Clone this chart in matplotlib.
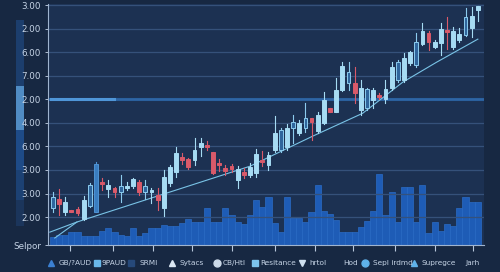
import numpy as np
import matplotlib
matplotlib.use("Agg")
import matplotlib.pyplot as plt
from matplotlib.lines import Line2D
from matplotlib.patches import Rectangle

# candle data (index order), values on the chart's own y scale
opens = [0.38, 0.76, 0.21, 0.30, 0.34, -0.08, 0.47, 0.21, 1.49, 1.19,
         1.23, 1.06, 1.23, 1.32, 1.49, 1.06, 1.06, 0.93, 0.38, 1.44,
         1.91, 2.55, 2.46, 2.42, 2.97, 3.06, 2.76, 2.29, 2.08, 2.16,
         1.57, 1.91, 1.78, 1.87, 2.42, 2.21, 2.84, 2.84, 2.97, 3.78,
         3.57, 3.78, 4.20, 3.65, 3.99, 4.63, 4.46, 5.39, 5.69, 5.69,
         4.54, 4.63, 4.97, 5.18, 5.01, 5.48, 5.82, 5.82, 6.54, 6.45,
         7.34, 7.81, 7.22, 7.39, 7.94, 7.22, 7.51, 7.73, 8.02, 8.79]
closes = [0.85, 0.55, 0.64, 0.21, 0.17, 0.72, 1.36, 2.25, 1.40, 1.36,
          1.06, 1.32, 1.32, 1.61, 1.06, 1.32, 1.15, 0.72, 1.70, 2.12,
          2.72, 2.42, 2.12, 2.84, 3.14, 2.97, 1.87, 2.21, 1.95, 2.04,
          2.04, 1.78, 2.12, 2.67, 2.33, 2.63, 3.57, 3.69, 3.78, 4.03,
          3.99, 4.20, 4.03, 4.33, 4.97, 4.46, 5.39, 6.41, 6.16, 5.26,
          5.48, 5.43, 5.39, 5.09, 5.43, 6.37, 6.58, 6.75, 7.00, 7.43,
          7.90, 7.43, 7.43, 7.98, 7.85, 7.90, 7.77, 8.49, 8.53, 8.96]
highs = [1.06, 1.19, 0.85, 0.30, 0.42, 0.89, 1.44, 2.33, 1.66, 1.57,
         1.27, 1.78, 1.49, 1.66, 1.57, 1.57, 1.23, 1.23, 2.00, 2.21,
         2.97, 2.72, 2.50, 3.35, 3.35, 3.23, 2.76, 2.46, 2.21, 2.25,
         2.16, 2.08, 2.29, 2.89, 2.80, 2.76, 4.29, 3.78, 3.95, 4.33,
         4.12, 4.84, 4.20, 4.46, 5.31, 4.63, 5.90, 6.58, 6.58, 6.37,
         5.82, 5.48, 5.48, 5.26, 5.82, 6.58, 6.66, 6.96, 7.05, 7.81,
         8.24, 7.90, 7.51, 8.24, 8.49, 8.07, 8.02, 8.87, 8.91, 8.96]
lows = [0.21, 0.08, 0.08, 0.21, 0.08, -0.13, 0.42, 0.21, 1.15, 0.85,
        0.85, 0.64, 1.15, 1.23, 0.93, 0.76, 0.59, 0.30, 0.04, 1.32,
        1.70, 2.25, 2.04, 2.21, 2.59, 2.84, 1.83, 1.95, 1.78, 1.91,
        1.23, 1.66, 1.70, 1.70, 2.16, 2.00, 2.76, 2.76, 2.84, 3.14,
        3.48, 3.61, 3.27, 3.57, 3.95, 4.46, 4.46, 5.35, 5.39, 4.84,
        4.33, 4.54, 4.63, 5.01, 4.84, 5.39, 5.73, 5.73, 6.45, 6.37,
        7.30, 7.09, 7.17, 6.88, 7.13, 7.13, 7.43, 7.68, 7.64, 8.32]
hollow_idx = [0, 6, 11, 15, 37, 39, 41, 48, 51, 56, 59, 67]
blue_idx = [7]

volume = [3.3, 4.1, 4.1, 5.4, 5.4, 3.7, 3.7, 3.7, 5.8, 7.1,
          5.4, 4.1, 3.7, 7.1, 3.7, 5.0, 7.1, 7.1, 8.3, 7.9,
          7.9, 9.1, 10.8, 9.5, 9.5, 15.4, 9.5, 9.5, 15.4, 12.4,
          9.5, 8.7, 12.4, 18.7, 15.8, 19.9, 9.1, 5.4, 19.9, 11.2,
          11.2, 9.5, 13.7, 24.9, 14.1, 12.9, 10.4, 5.4, 5.4, 5.4,
          7.5, 10.0, 14.1, 29.5, 12.4, 22.0, 9.5, 24.1, 24.1, 9.5,
          24.9, 5.0, 9.5, 5.8, 8.7, 7.9, 15.4, 19.9, 17.8, 17.8]

trend_x = [-0.5, 3.9, 32.0, 42.2, 50.3, 56.8, 62.3, 69.0]
trend_y = [-0.64, -0.21, 2.16, 3.44, 4.41, 5.73, 6.58, 7.56]
trend2_x = [0.3, 3.9]
trend2_y = [-0.89, -0.21]

ytick_pos = [-1.19, 0, 1, 2, 3, 4, 5, 6, 7, 8, 9]
ytick_labels = ["Selpor", "2.00", "3.00", "3.00", "6.00", "4.00", "2.00",
                "7.00", "6.00", "2.00", "3.00"]
xtick_pos = [2.8, 9.7, 16.2, 22.6, 29.1, 36.0, 42.5, 48.7, 55.5, 62.0, 68.2]

legend_labels = ["GB/?AUD", "9PAUD", "SRMI", "Sytacs", "CB/Htl", "Resitance",
                 "hrtol", "Hod", "Sepl irdmd", "Supregce", "Jarh"]

BG = "#172842"
AX_BG = "#1c3152"
TXT = "#c6d4e6"
LIGHT = "#a6dbf3"
RED = "#d95a6a"

fig = plt.figure(figsize=(5, 2.72), dpi=100, facecolor=BG)
ax2 = fig.add_axes([0.096, 0.099, 0.872, 0.886])
ax = fig.add_axes([0.096, 0.099, 0.872, 0.886], sharex=ax2)
ax.set_zorder(3)
ax.patch.set_visible(False)
ax2.set_facecolor(AX_BG)

n = len(opens)
idx = np.arange(n)

# volume bars
ax2.bar(idx, volume, width=1.0, color="#1e5cb6", edgecolor="#2a6cc6",
        linewidth=0.5, zorder=2)
ax2.set_ylim(0, 100)
ax2.set_yticks([])
for s in ax2.spines.values():
    s.set_visible(False)
ax2.tick_params(axis="x", which="both", length=0, labelbottom=False)

# grid lines
for y in ytick_pos[1:]:
    ax.axhline(y, color="#35517a", lw=0.9, zorder=1)
ax.axhline(5, color="#2e6bb0", lw=2.2, alpha=0.8, zorder=1)
ax.plot([-0.3, 9.9], [5, 5], color="#4f96d8", lw=2.2, zorder=1)

# trend lines
ax.plot(trend_x, trend_y, color="#79c3e6", lw=0.8, zorder=2)
ax.plot(trend2_x, trend2_y, color="#79c3e6", lw=0.8, zorder=2)

# candles
w = 0.62
for i in range(n):
    o, c, h, l = opens[i], closes[i], highs[i], lows[i]
    if c < o:
        col, face = RED, RED
    elif i in hollow_idx:
        col, face = "#8ccbee", "#2f659c"
    elif i in blue_idx:
        col, face = "#4f93d4", "#3a7dc0"
    else:
        col, face = LIGHT, LIGHT
    ax.plot([i, i], [l, h], color=col, lw=0.8, zorder=4)
    lo, hi = min(o, c), max(o, c)
    hgt = max(hi - lo, 0.06)
    ax.add_patch(Rectangle((i - w / 2, lo), w, hgt, facecolor=face,
                           edgecolor=col, lw=0.7, zorder=5))

ax.set_xlim(-0.8, 70.0)
ax.set_ylim(-1.19, 9.05)
ax.set_yticks(ytick_pos)
ax.set_yticklabels(ytick_labels)
ax.set_xticks(xtick_pos)
ax.set_xticklabels([])
ax.tick_params(axis="y", colors=TXT, labelsize=6.3, length=2, width=0.6, pad=3)
ax.tick_params(axis="x", colors="#b8c8dc", length=4, width=0.8, direction="out")
for side in ["top", "right"]:
    ax.spines[side].set_visible(False)
ax.spines["left"].set_color("#9fb4cf")
ax.spines["bottom"].set_color("#9fb4cf")
ax.spines["left"].set_linewidth(0.8)
ax.spines["bottom"].set_linewidth(0.8)

# left decorative strip
sax = fig.add_axes([16 / 500, 1 - 226 / 272, 8 / 500, 206 / 272])
strip = np.array([[0.25]] * 66 + [[0.85]] * 44 + [[0.45]] * 40 + [[0.3]] * 30 + [[0.12]] * 26)
sax.imshow(strip, aspect="auto", cmap=matplotlib.colors.LinearSegmentedColormap.from_list(
    "s", ["#1a2e4c", "#1f4f8e", "#66a6dc"]), vmin=0, vmax=1)
sax.axis("off")

# legend row
leg_marker = ["^", "s", "s", "^", "o", "s", "v", None, "o", "^", None]
leg_color = ["#3b80d2", "#6ab8ea", "#26497a", "#dbe7f3", "#cbd9e8", "#7cc4ee",
             "#cfe0f0", None, "#5fb2ea", "#5fb2ea", None]
leg_mx = [51, 97, 131, 172, 217, 255, 302, None, 365, 414, None]
leg_tx = [59, 102, 140, 180, 223, 260, 309, 343, 373, 422, 465]
ly = 1 - 263 / 272
for lab, m, col, mx, tx in zip(legend_labels, leg_marker, leg_color, leg_mx, leg_tx):
    if m is not None:
        fig.add_artist(Line2D([mx / 500], [ly], transform=fig.transFigure,
                              marker=m, color=col, markersize=5, linestyle="none"))
    fig.text(tx / 500, ly, lab, color=TXT, fontsize=5.3, va="center", ha="left")

fig.savefig("out.png", dpi=100, facecolor=BG)
